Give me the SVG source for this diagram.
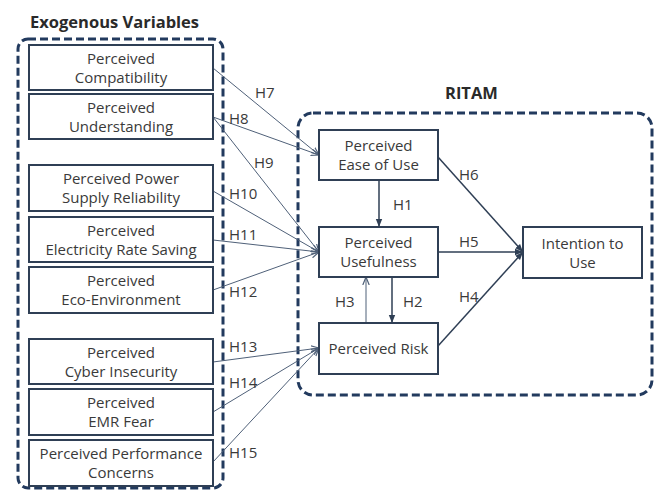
<svg xmlns="http://www.w3.org/2000/svg" width="658" height="491" viewBox="0 0 658 491">
<defs>
<style>
.cont{fill:none;stroke:#223a5e;stroke-width:3;stroke-dasharray:8 4}
.box{fill:#fff;stroke:#2f3f55;stroke-width:2}
.t{font-family:"Open Sans","Noto Sans",sans-serif;font-size:15px;fill:#3a3a3a;text-anchor:middle}
.lab{font-family:"Open Sans","Noto Sans",sans-serif;font-size:15px;fill:#3a3a3a}
.title{font-family:"Open Sans","Noto Sans",sans-serif;font-size:16.5px;font-weight:bold;fill:#2a2a2a}
.c{fill:none;stroke:#4f6078;stroke-width:1}
.cb{fill:none;stroke:#2f3f55;stroke-width:1.5}
</style>
<marker id="ah" viewBox="0 0 10 10" refX="10" refY="5" markerWidth="8" markerHeight="8" orient="auto" markerUnits="userSpaceOnUse">
<path d="M0,1 L10,5 L0,9" fill="none" stroke="#4f6078" stroke-width="1.5"/>
</marker>
<marker id="ahf" viewBox="0 0 10 10" refX="10" refY="5" markerWidth="8" markerHeight="8" orient="auto" markerUnits="userSpaceOnUse">
<path d="M0,1 L10,5 L0,9 Z" fill="#2f3f55"/>
</marker>
</defs>
<rect width="658" height="491" fill="#fff"/>

<g id="exogenous">
<rect class="cont" x="18" y="39" width="205" height="449" rx="10"/>
<text class="title" x="30" y="28">Exogenous Variables</text>
</g>
<g id="ritam">
<rect class="cont" x="298" y="113" width="354" height="282" rx="15"/>
<text class="title" x="445" y="99">RITAM</text>
</g>

<g id="connectors">
<line class="c" x1="213" y1="68" x2="319" y2="155" marker-end="url(#ah)"/>
<line class="c" x1="213" y1="117" x2="319" y2="155" marker-end="url(#ah)"/>
<line class="c" x1="213" y1="117" x2="319" y2="252" marker-end="url(#ah)"/>
<line class="c" x1="213" y1="191" x2="319" y2="252" marker-end="url(#ah)"/>
<line class="c" x1="213" y1="240" x2="319" y2="252" marker-end="url(#ah)"/>
<line class="c" x1="213" y1="290" x2="319" y2="252" marker-end="url(#ah)"/>
<line class="c" x1="213" y1="362" x2="319" y2="348" marker-end="url(#ah)"/>
<line class="c" x1="213" y1="412" x2="319" y2="348" marker-end="url(#ah)"/>
<line class="c" x1="213" y1="462" x2="319" y2="348" marker-end="url(#ah)"/>
<line class="cb" x1="379" y1="180" x2="379" y2="227" marker-end="url(#ahf)"/>
<line class="cb" x1="392" y1="277" x2="392" y2="323" stroke-width="2" marker-end="url(#ahf)"/>
<line class="c" x1="366" y1="323" x2="366" y2="277" marker-end="url(#ah)"/>
<line class="cb" x1="438" y1="157" x2="523" y2="252" marker-end="url(#ahf)"/>
<line class="cb" x1="438" y1="252" x2="523" y2="252" marker-end="url(#ahf)"/>
<line class="cb" x1="438" y1="346" x2="523" y2="252" marker-end="url(#ahf)"/>
<text class="lab" x="255" y="98">H7</text>
<text class="lab" x="229" y="124">H8</text>
<text class="lab" x="254" y="168">H9</text>
<text class="lab" x="229" y="199">H10</text>
<text class="lab" x="229" y="240">H11</text>
<text class="lab" x="229" y="297">H12</text>
<text class="lab" x="229" y="352">H13</text>
<text class="lab" x="229" y="388">H14</text>
<text class="lab" x="229" y="458">H15</text>
<text class="lab" x="393" y="210">H1</text>
<text class="lab" x="403" y="307">H2</text>
<text class="lab" x="335" y="307">H3</text>
<text class="lab" x="459" y="180">H6</text>
<text class="lab" x="459" y="247">H5</text>
<text class="lab" x="459" y="302">H4</text>
</g>

<g id="n1"><rect class="box" x="29" y="45" width="184" height="45"/><text class="t" x="121" y="64">Perceived</text><text class="t" x="121" y="83">Compatibility</text></g>
<g id="n2"><rect class="box" x="29" y="94" width="184" height="45"/><text class="t" x="121" y="113">Perceived</text><text class="t" x="121" y="132">Understanding</text></g>
<g id="n3"><rect class="box" x="29" y="165" width="184" height="46"/><text class="t" x="121" y="184">Perceived Power</text><text class="t" x="121" y="203">Supply Reliability</text></g>
<g id="n4"><rect class="box" x="29" y="217" width="184" height="45"/><text class="t" x="121" y="236">Perceived</text><text class="t" x="121" y="255">Electricity Rate Saving</text></g>
<g id="n5"><rect class="box" x="29" y="267" width="184" height="46"/><text class="t" x="121" y="286">Perceived</text><text class="t" x="121" y="305">Eco-Environment</text></g>
<g id="n6"><rect class="box" x="29" y="339" width="184" height="45"/><text class="t" x="121" y="358">Perceived</text><text class="t" x="121" y="377">Cyber Insecurity</text></g>
<g id="n7"><rect class="box" x="29" y="389" width="184" height="46"/><text class="t" x="121" y="408">Perceived</text><text class="t" x="121" y="427">EMR Fear</text></g>
<g id="n8"><rect class="box" x="29" y="440" width="184" height="46"/><text class="t" x="121" y="459">Perceived Performance</text><text class="t" x="121" y="478">Concerns</text></g>

<g id="n_ease"><rect class="box" x="319" y="130" width="119" height="50"/><text class="t" x="378.5" y="151">Perceived</text><text class="t" x="378.5" y="170">Ease of Use</text></g>
<g id="n_useful"><rect class="box" x="319" y="227" width="119" height="50"/><text class="t" x="378.5" y="248">Perceived</text><text class="t" x="378.5" y="267">Usefulness</text></g>
<g id="n_risk"><rect class="box" x="319" y="323" width="119" height="51"/><text class="t" x="378.5" y="354">Perceived Risk</text></g>
<g id="n_intent"><rect class="box" x="523" y="227" width="119" height="51"/><text class="t" x="582.5" y="249">Intention to</text><text class="t" x="582.5" y="268">Use</text></g>
</svg>
